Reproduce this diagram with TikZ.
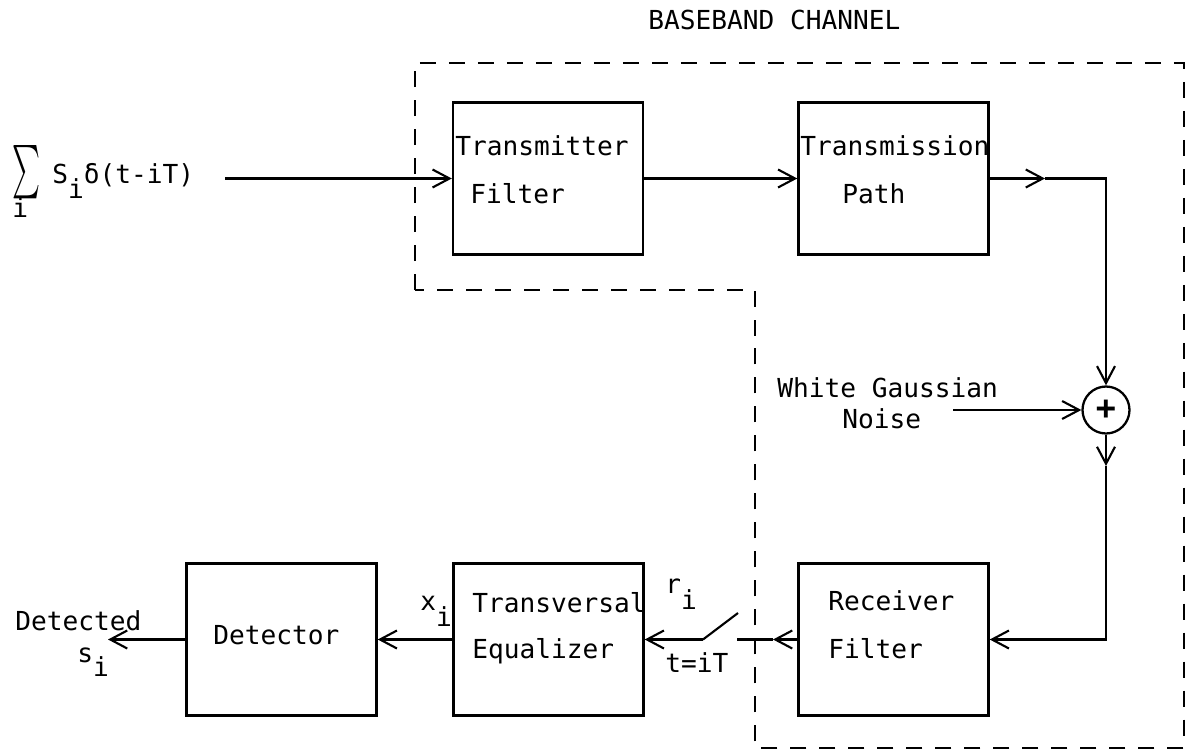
\documentclass[tikz,border=0pt]{standalone}
\usepackage{fontspec}
\setmonofont{DejaVu Sans Mono}
\usetikzlibrary{arrows.meta}

\begin{document}
\begin{tikzpicture}[x=0.02cm,y=-0.02cm,
  block/.style={draw,line width=1.4pt,minimum width=3.8cm,minimum height=3.04cm,inner sep=0pt},
  lbl/.style={font=\ttfamily\fontsize{14.9}{17}\selectfont,anchor=base west,inner sep=0pt},
  sig/.style={line width=1.2pt,-{Straight Barb[length=3.4mm,width=3.6mm,line width=1.2pt]}},
  wire/.style={line width=1.2pt},
  bound/.style={line width=1.1pt,dash pattern=on 0.32cm off 0.26cm}]
\useasboundingbox (0,0) rectangle (1191,754);
% blocks
\node[block] (txf) at (548,178.5) {};
\node[block] (path) at (893.5,178.5) {};
\node[block] (rxf) at (893.5,639.5) {};
\node[block] (eq) at (548.5,639.5) {};
\node[block] (det) at (281.5,639.5) {};
\node[circle,draw,line width=1.3pt,minimum size=0.94cm,inner sep=0pt,font=\ttfamily\bfseries\fontsize{19}{20}\selectfont] (sum) at (1106,410) {+};
% free ends and switch
\coordinate (src) at (225,178.5);
\coordinate (c1) at (1045,178.5);
\coordinate (noise) at (953,410);
\coordinate (c2) at (1106,466);
\coordinate (c3) at (773,639.5);
\coordinate (swa) at (737,639.5);
\coordinate (swb) at (703,639.5);
\coordinate (swt) at (738,613);
\coordinate (out) at (108,639.5);
% channel boundary
\draw[bound] (415,290) -- (415,63) -- (1184,63) -- (1184,748) -- (755,748) -- (755,290) -- cycle;
% signal flow
\draw[sig] (src) -- (txf.west);
\draw[sig] (txf.east) -- (path.west);
\draw[sig] (path.east) -- (c1);
\draw[sig] (c1) -| (sum.north);
\draw[sig] (noise) -- (sum.west);
\draw[sig] (sum.south) -- (c2);
\draw[sig] (c2) |- (rxf.east);
\draw[sig] (rxf.west) -- (c3);
\draw[wire] (c3) -- (swa);
\draw[wire] (swb) -- (swt);
\draw[sig] (swb) -- (eq.east);
\draw[sig] (eq.west) -- (det.east);
\draw[sig] (det.west) -- (out);
% texts
\node[lbl] (title) at (648,29) {BASEBAND CHANNEL};
\node[inner sep=0pt] (sigma) at (26,172) {\resizebox{0.56cm}{0.8cm}{$\sum$}};
\node[lbl] (sidx) at (12,217) {i};
\node[lbl] (inp) at (52,183) {S\raisebox{-9pt}{i}δ(t-iT)};
\node[lbl] (t1) at (455,155) {Transmitter};
\node[lbl] (t2) at (470,203) {Filter};
\node[lbl] (t3) at (800,155) {Transmission};
\node[lbl] (t4) at (842,203) {Path};
\node[lbl] (t5) at (777,397) {White Gaussian};
\node[lbl] (t6) at (842,428) {Noise};
\node[lbl] (t7) at (828,610) {Receiver};
\node[lbl] (t8) at (828,658) {Filter};
\node[lbl] (t9) at (472,612) {Transversal};
\node[lbl] (t10) at (472,658) {Equalizer};
\node[lbl] (t11) at (213,644) {Detector};
\node[lbl] (t12) at (15,630) {Detected};
\node[lbl] (t13) at (77,662) {s\raisebox{-8.5pt}{i}};
\node[lbl] (t14) at (420,610) {x\raisebox{-9.5pt}{i}};
\node[lbl] (t15) at (665,593) {r\raisebox{-9.5pt}{i}};
\node[lbl] (t16) at (665,672) {t=iT};
\end{tikzpicture}
\end{document}
